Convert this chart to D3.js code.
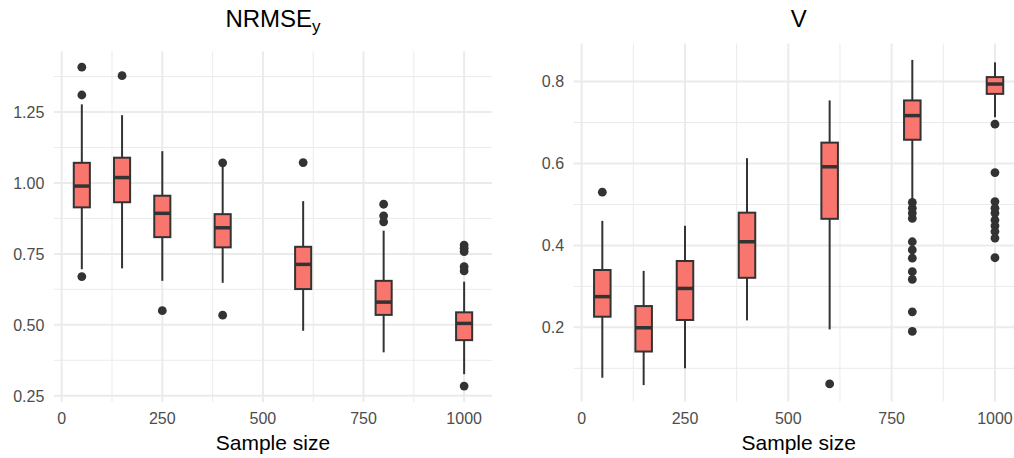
<!DOCTYPE html>
<html>
<head>
<meta charset="utf-8">
<script src="https://cdn.jsdelivr.net/npm/d3@7"></script>
<style>
  html, body { margin: 0; padding: 0; background: #ffffff; }
  svg { display: block; font-family: "Liberation Sans", Arial, Helvetica, sans-serif; }
</style>
</head>
<body>
<svg id="chart" width="1014" height="458"></svg>
<script>
// ---------- data ----------
const sampleSizes = [50, 150, 250, 400, 600, 800, 1000];

const nrmseLower  = [0.696, 0.699, 0.655, 0.648, 0.479, 0.403, 0.326];
const nrmseQ1     = [0.914, 0.932, 0.809, 0.773, 0.626, 0.535, 0.446];
const nrmseMedian = [0.989, 1.019, 0.893, 0.842, 0.713, 0.580, 0.505];
const nrmseQ3     = [1.071, 1.089, 0.955, 0.890, 0.775, 0.655, 0.544];
const nrmseUpper  = [1.277, 1.239, 1.112, 1.057, 0.936, 0.832, 0.652];
const nrmseOutliers = [
  [1.408, 1.310, 0.670],
  [1.378],
  [0.550],
  [1.071, 0.534],
  [1.072],
  [0.925, 0.884, 0.863],
  [0.781, 0.770, 0.758, 0.705, 0.690, 0.284]
];

const vLower  = [0.077, 0.059, 0.100, 0.217, 0.195, 0.513, 0.713];
const vQ1     = [0.226, 0.141, 0.218, 0.321, 0.465, 0.658, 0.770];
const vMedian = [0.275, 0.199, 0.295, 0.409, 0.592, 0.717, 0.794];
const vQ3     = [0.340, 0.252, 0.362, 0.480, 0.651, 0.754, 0.811];
const vUpper  = [0.460, 0.338, 0.448, 0.613, 0.754, 0.853, 0.847];
const vOutliers = [
  [0.530],
  [],
  [],
  [],
  [0.062],
  [0.505, 0.491, 0.479, 0.466, 0.409, 0.389, 0.369, 0.336, 0.317, 0.238, 0.190],
  [0.696, 0.578, 0.507, 0.491, 0.479, 0.462, 0.448, 0.434, 0.418, 0.370]
];

const xTicks = [0, 250, 500, 750, 1000];
const xMinor = [125, 375, 625, 875];
const nrmseTicks = [0.25, 0.50, 0.75, 1.00, 1.25];
const nrmseMinor = [0.375, 0.625, 0.875, 1.125, 1.375];
const vTicks = [0.2, 0.4, 0.6, 0.8];
const vMinor = [0.1, 0.3, 0.5, 0.7];
const xTitle = "Sample size";

// ---------- drawing ----------
const svg = d3.select("#chart");
const boxWidth = 40; // in data units
const fill = "#F8766D", ink = "#333333", grid = "#EBEBEB";

function panel(opts) {
  const x = d3.scaleLinear().domain([-19.5, 1069.5]).range(opts.xRange);
  const y = d3.scaleLinear().domain(opts.yDomain).range(opts.yRange);
  const g = svg.append("g");
  const [x0, x1] = opts.xRange;
  const [yb, yt] = opts.yRange;

  // minor grid
  g.selectAll(".hmin").data(opts.yMinor).join("line")
    .attr("x1", x0).attr("x2", x1).attr("y1", d => y(d)).attr("y2", d => y(d))
    .attr("stroke", grid).attr("stroke-width", 1);
  g.selectAll(".vmin").data(xMinor).join("line")
    .attr("y1", yb).attr("y2", yt).attr("x1", d => x(d)).attr("x2", d => x(d))
    .attr("stroke", grid).attr("stroke-width", 1);
  // major grid
  g.selectAll(".hmaj").data(opts.yTicks).join("line")
    .attr("x1", x0).attr("x2", x1).attr("y1", d => y(d)).attr("y2", d => y(d))
    .attr("stroke", grid).attr("stroke-width", 2);
  g.selectAll(".vmaj").data(xTicks).join("line")
    .attr("y1", yb).attr("y2", yt).attr("x1", d => x(d)).attr("x2", d => x(d))
    .attr("stroke", grid).attr("stroke-width", 2);

  // tick labels
  g.selectAll(".yl").data(opts.yTicks).join("text")
    .attr("x", x0 - 9.5).attr("y", d => y(d)).attr("dy", "0.36em")
    .attr("text-anchor", "end").attr("font-size", 16).attr("fill", "#4D4D4D")
    .text(d => d3.format(opts.fmt)(d));
  g.selectAll(".xl").data(xTicks).join("text")
    .attr("x", d => x(d)).attr("y", 423.5)
    .attr("text-anchor", "middle").attr("font-size", 16).attr("fill", "#4D4D4D")
    .text(d => d);

  // axis title
  g.append("text").attr("x", (x0 + x1) / 2).attr("y", 450)
    .attr("text-anchor", "middle").attr("font-size", 21).attr("fill", "#000")
    .text(xTitle);

  // plot title
  const t = g.append("text").attr("x", (x0 + x1) / 2).attr("y", 27)
    .attr("text-anchor", "middle").attr("font-size", 24).attr("fill", "#000");
  t.append("tspan").text(opts.title);
  if (opts.sub) {
    t.append("tspan").attr("font-size", 17).attr("dy", 5).text(opts.sub);
  }

  const rows = sampleSizes.map((s, i) => ({
    s, lo: opts.lower[i], q1: opts.q1[i], med: opts.median[i], q3: opts.q3[i], hi: opts.upper[i], out: opts.outliers[i]
  }));

  const bg = g.selectAll(".box").data(rows).join("g");
  // whiskers
  bg.append("line")
    .attr("x1", d => x(d.s)).attr("x2", d => x(d.s))
    .attr("y1", d => y(d.q3)).attr("y2", d => y(d.hi))
    .attr("stroke", ink).attr("stroke-width", 2);
  bg.append("line")
    .attr("x1", d => x(d.s)).attr("x2", d => x(d.s))
    .attr("y1", d => y(d.q1)).attr("y2", d => y(d.lo))
    .attr("stroke", ink).attr("stroke-width", 2);
  // box
  bg.append("rect")
    .attr("x", d => x(d.s - boxWidth / 2)).attr("width", d => x(d.s + boxWidth / 2) - x(d.s - boxWidth / 2))
    .attr("y", d => y(d.q3)).attr("height", d => y(d.q1) - y(d.q3))
    .attr("fill", fill).attr("stroke", ink).attr("stroke-width", 2);
  // median
  bg.append("line")
    .attr("x1", d => x(d.s - boxWidth / 2)).attr("x2", d => x(d.s + boxWidth / 2))
    .attr("y1", d => y(d.med)).attr("y2", d => y(d.med))
    .attr("stroke", ink).attr("stroke-width", 3.5);
  // outliers
  bg.selectAll("circle").data(d => d.out.map(v => ({ s: d.s, v }))).join("circle")
    .attr("cx", d => x(d.s)).attr("cy", d => y(d.v)).attr("r", 4.4)
    .attr("fill", ink);
}

panel({
  xRange: [53.85, 492.1], yDomain: [0.228, 1.464], yRange: [402, 51.3],
  yTicks: nrmseTicks, yMinor: nrmseMinor, fmt: ".2f",
  title: "NRMSE", sub: "y",
  lower: nrmseLower, q1: nrmseQ1, median: nrmseMedian, q3: nrmseQ3, upper: nrmseUpper, outliers: nrmseOutliers
});
panel({
  xRange: [573.6, 1023.7], yDomain: [0.019, 0.893], yRange: [401.5, 43.5],
  yTicks: vTicks, yMinor: vMinor, fmt: ".1f",
  title: "V", sub: null,
  lower: vLower, q1: vQ1, median: vMedian, q3: vQ3, upper: vUpper, outliers: vOutliers
});
</script>
</body>
</html>
